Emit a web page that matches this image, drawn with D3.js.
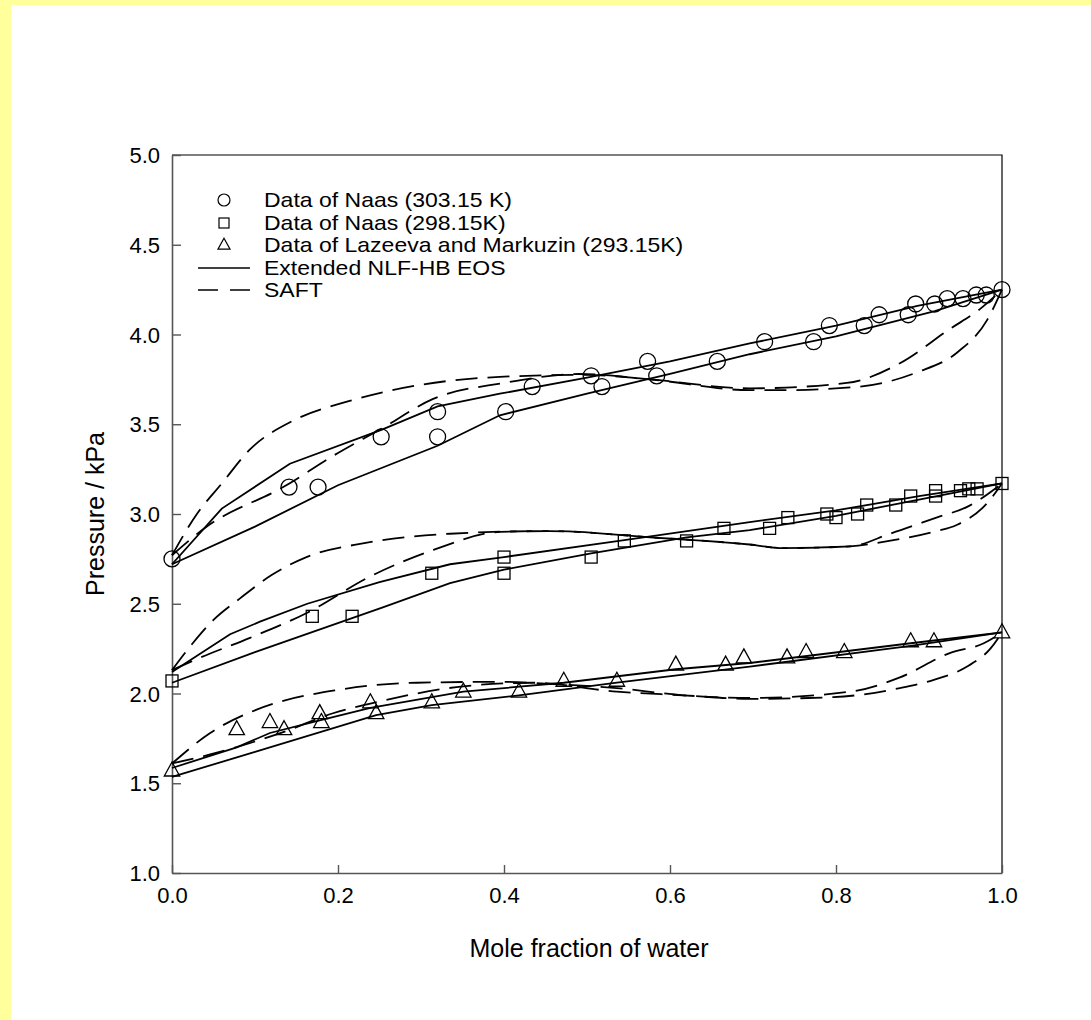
<!DOCTYPE html>
<html>
<head>
<meta charset="utf-8">
<script src="https://cdn.jsdelivr.net/npm/d3@7"></script>
<style>
  html, body { margin: 0; padding: 0; background: #ffff9c; }
  svg { display: block; }
  text { font-family: "Liberation Sans", Arial, sans-serif; fill: #000; }
</style>
</head>
<body>
<svg id="chart" width="1091" height="1020"></svg>
<script>
// Experimental vapour pressure data, [mole fraction of water, pressure / kPa]
const naas303 = [[0,2.75],[0.141,3.15],[0.176,3.15],[0.252,3.43],[0.32,3.43],[0.32,3.57],[0.402,3.57],[0.434,3.71],[0.505,3.77],[0.518,3.71],[0.573,3.85],[0.584,3.77],[0.657,3.85],[0.714,3.96],[0.773,3.96],[0.792,4.05],[0.834,4.05],[0.852,4.11],[0.887,4.11],[0.896,4.17],[0.919,4.17],[0.934,4.20],[0.953,4.20],[0.969,4.22],[0.981,4.22],[1.0,4.25]];
const naas298 = [[0,2.07],[0.169,2.43],[0.217,2.43],[0.313,2.67],[0.4,2.67],[0.4,2.76],[0.505,2.76],[0.545,2.85],[0.62,2.85],[0.665,2.92],[0.72,2.92],[0.742,2.98],[0.789,3.00],[0.8,2.98],[0.826,3.00],[0.837,3.05],[0.872,3.05],[0.89,3.10],[0.92,3.10],[0.92,3.13],[0.95,3.13],[0.96,3.14],[0.97,3.14],[1.0,3.17]];
const lazeeva293 = [[0,1.57],[0.078,1.80],[0.118,1.84],[0.135,1.80],[0.178,1.89],[0.18,1.84],[0.239,1.95],[0.246,1.89],[0.313,1.95],[0.351,2.01],[0.418,2.01],[0.472,2.07],[0.536,2.07],[0.607,2.16],[0.667,2.16],[0.689,2.20],[0.741,2.20],[0.764,2.23],[0.81,2.23],[0.89,2.29],[0.918,2.29],[1.0,2.34]];

// Extended NLF-HB EOS results (two sets per isotherm)
const nlf303a = [[0,2.72],[0.06,3.03],[0.142,3.28],[0.253,3.47],[0.32,3.60],[0.395,3.67],[0.5,3.76],[0.6,3.85],[0.696,3.95],[0.8,4.05],[0.898,4.16],[1.0,4.25]];
const nlf303b = [[0,2.72],[0.1,2.93],[0.2,3.16],[0.32,3.38],[0.395,3.55],[0.5,3.67],[0.6,3.78],[0.696,3.89],[0.8,3.99],[0.919,4.13],[1.0,4.25]];
const nlf298a = [[0,2.12],[0.07,2.33],[0.106,2.40],[0.163,2.50],[0.25,2.62],[0.335,2.72],[0.4,2.76],[0.545,2.855],[0.696,2.955],[0.8,3.02],[0.9,3.10],[1.0,3.17]];
const nlf298b = [[0,2.06],[0.1,2.23],[0.254,2.48],[0.335,2.615],[0.4,2.69],[0.505,2.78],[0.62,2.87],[0.696,2.91],[0.8,2.99],[0.9,3.08],[1.0,3.17]];
const nlf293a = [[0,1.585],[0.078,1.70],[0.118,1.78],[0.178,1.85],[0.239,1.92],[0.351,2.01],[0.472,2.06],[0.607,2.135],[0.696,2.17],[0.89,2.28],[1.0,2.34]];
const nlf293b = [[0,1.535],[0.1,1.675],[0.246,1.88],[0.313,1.935],[0.418,1.99],[0.536,2.06],[0.696,2.15],[0.89,2.265],[1.0,2.34]];

// SAFT results (two sets per isotherm)
const saft303a = [[0,2.77],[0.03,3.0],[0.06,3.17],[0.094,3.36],[0.146,3.52],[0.214,3.63],[0.3,3.72],[0.4,3.765],[0.5,3.775],[0.576,3.75],[0.696,3.70],[0.813,3.73],[0.877,3.84],[0.937,4.03],[0.973,4.14],[1.0,4.25]];
const saft303b = [[0,2.77],[0.042,2.93],[0.134,3.15],[0.2,3.34],[0.254,3.48],[0.314,3.64],[0.4,3.73],[0.49,3.78],[0.576,3.75],[0.696,3.69],[0.736,3.69],[0.829,3.71],[0.898,3.79],[0.946,3.90],[0.982,4.08],[1.0,4.25]];
const saft298a = [[0,2.13],[0.025,2.28],[0.05,2.41],[0.082,2.53],[0.12,2.66],[0.162,2.76],[0.235,2.84],[0.335,2.89],[0.455,2.905],[0.576,2.87],[0.696,2.83],[0.736,2.81],[0.817,2.82],[0.865,2.89],[0.921,2.98],[0.958,3.04],[1.0,3.17]];
const saft298b = [[0,2.13],[0.034,2.20],[0.094,2.31],[0.163,2.45],[0.238,2.65],[0.315,2.80],[0.395,2.90],[0.455,2.905],[0.576,2.87],[0.696,2.83],[0.736,2.81],[0.817,2.82],[0.857,2.845],[0.917,2.90],[0.946,2.94],[0.982,3.06],[1.0,3.17]];
const saft293a = [[0,1.61],[0.046,1.78],[0.102,1.91],[0.2,2.02],[0.295,2.06],[0.395,2.065],[0.47,2.05],[0.536,2.03],[0.616,1.99],[0.696,1.975],[0.817,2.01],[0.877,2.09],[0.937,2.225],[0.978,2.28],[1.0,2.34]];
const saft293b = [[0,1.61],[0.054,1.67],[0.134,1.785],[0.194,1.89],[0.254,1.96],[0.351,2.04],[0.435,2.06],[0.536,2.01],[0.616,1.99],[0.696,1.97],[0.797,1.98],[0.877,2.03],[0.917,2.075],[0.958,2.15],[0.986,2.25],[1.0,2.34]];

const xTicks = [0.0, 0.2, 0.4, 0.6, 0.8, 1.0];
const yTicks = [1.0, 1.5, 2.0, 2.5, 3.0, 3.5, 4.0, 4.5, 5.0];

const legendLabels = [
  "Data of Naas (303.15 K)",
  "Data of Naas (298.15K)",
  "Data of Lazeeva and Markuzin (293.15K)",
  "Extended NLF-HB EOS",
  "SAFT"
];

const svg = d3.select("#chart");

// white page area
svg.append("rect").attr("x", 11).attr("y", 5).attr("width", 1080).attr("height", 1015).attr("fill", "#fff");

const x = d3.scaleLinear().domain([0, 1]).range([172, 1002]);
const y = d3.scaleLinear().domain([1, 5]).range([873, 155]);

// frame (top and right sides)
svg.append("path")
  .attr("d", `M${x(0)},${y(5)}H${x(1)}V${y(1)}`)
  .attr("fill", "none").attr("stroke", "#000").attr("stroke-width", 1.2);

// axes with inward ticks
const xAxis = svg.append("g").attr("transform", `translate(0,${y(1)})`)
  .call(d3.axisBottom(x).tickValues(xTicks).tickFormat(d3.format(".1f")).tickSizeInner(-8).tickSizeOuter(0).tickPadding(14));
const yAxis = svg.append("g").attr("transform", `translate(${x(0)},0)`)
  .call(d3.axisLeft(y).tickValues(yTicks).tickFormat(d3.format(".1f")).tickSizeInner(-9).tickSizeOuter(0).tickPadding(12));
[xAxis, yAxis].forEach(g => {
  g.select(".domain").attr("stroke", "#555").attr("stroke-width", 1.6);
  g.selectAll(".tick line").attr("stroke", "#555").attr("stroke-width", 1.4);
  g.selectAll(".tick text").style("font-size", "22px").attr("fill", "#000");
});
xAxis.selectAll(".tick text").attr("dy", "0.71em");
yAxis.selectAll(".tick text").attr("dy", "0.35em");

// axis titles
svg.append("text").attr("x", 589).attr("y", 957).attr("text-anchor", "middle")
  .style("font-size", "25px").text("Mole fraction of water");
svg.append("text").attr("transform", "translate(104,514) rotate(-90)").attr("text-anchor", "middle")
  .style("font-size", "25px").text("Pressure / kPa");

const plot = svg.append("g");
const solidLine = d3.line().x(d => x(d[0])).y(d => y(d[1])).curve(d3.curveLinear);
const dashLine = d3.line().x(d => x(d[0])).y(d => y(d[1])).curve(d3.curveMonotoneX);

[nlf303a, nlf303b, nlf298a, nlf298b, nlf293a, nlf293b].forEach(s => {
  plot.append("path").attr("d", solidLine(s)).attr("fill", "none")
    .attr("stroke", "#000").attr("stroke-width", 1.8);
});
[saft303a, saft303b, saft298a, saft298b, saft293a, saft293b].forEach(s => {
  plot.append("path").attr("d", dashLine(s)).attr("fill", "none")
    .attr("stroke", "#000").attr("stroke-width", 1.8).attr("stroke-dasharray", "22,10");
});

// markers
const triPath = s => `M0,${-s * 0.62}L${s * 0.55},${s * 0.38}L${-s * 0.55},${s * 0.38}Z`;
function circles(g, data, r) {
  g.selectAll(null).data(data).join("circle")
    .attr("cx", d => x(d[0])).attr("cy", d => y(d[1])).attr("r", r)
    .attr("fill", "none").attr("stroke", "#000").attr("stroke-width", 1.3);
}
function squares(g, data, s) {
  g.selectAll(null).data(data).join("rect")
    .attr("x", d => x(d[0]) - s / 2).attr("y", d => y(d[1]) - s / 2)
    .attr("width", s).attr("height", s)
    .attr("fill", "none").attr("stroke", "#000").attr("stroke-width", 1.3);
}
function triangles(g, data, s) {
  g.selectAll(null).data(data).join("path")
    .attr("transform", d => `translate(${x(d[0])},${y(d[1])})`)
    .attr("d", triPath(s))
    .attr("fill", "none").attr("stroke", "#000").attr("stroke-width", 1.3);
}
circles(plot.append("g"), naas303, 8);
squares(plot.append("g"), naas298, 12);
triangles(plot.append("g"), lazeeva293, 14);

// legend (text is set slightly wide, as in the original layout)
const lg = svg.append("g");
const rowY = [200, 223, 245, 268, 290];
const textX = 264, symX = 224;
lg.append("circle").attr("cx", symX).attr("cy", rowY[0]).attr("r", 6)
  .attr("fill", "none").attr("stroke", "#000").attr("stroke-width", 1.2);
lg.append("rect").attr("x", symX - 5).attr("y", rowY[1] - 5).attr("width", 10).attr("height", 10)
  .attr("fill", "none").attr("stroke", "#000").attr("stroke-width", 1.2);
lg.append("path").attr("transform", `translate(${symX},${rowY[2]})`).attr("d", triPath(11))
  .attr("fill", "none").attr("stroke", "#000").attr("stroke-width", 1.2);
lg.append("line").attr("x1", 198).attr("x2", 250).attr("y1", rowY[3]).attr("y2", rowY[3])
  .attr("stroke", "#000").attr("stroke-width", 1.6);
lg.append("line").attr("x1", 198).attr("x2", 250).attr("y1", rowY[4]).attr("y2", rowY[4])
  .attr("stroke", "#000").attr("stroke-width", 1.6).attr("stroke-dasharray", "20,12");
lg.selectAll(null).data(legendLabels).join("text")
  .attr("transform", (d, i) => `translate(${textX},${rowY[i]}) scale(1.15,1)`)
  .attr("dy", "0.35em")
  .style("font-size", "20px").text(d => d);
</script>
</body>
</html>
